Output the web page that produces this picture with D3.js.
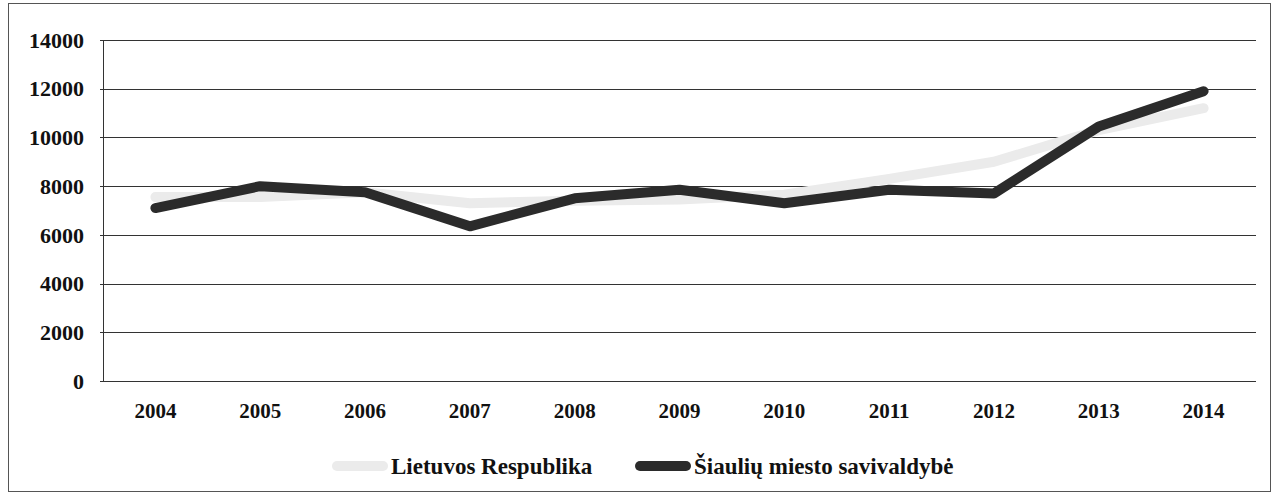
<!DOCTYPE html>
<html>
<head>
<meta charset="utf-8">
<script src="https://cdn.jsdelivr.net/npm/d3@7"></script>
<style>
  body { margin: 0; background: #fff; }
  text { font-family: "Liberation Serif", "Times New Roman", serif; font-weight: bold; fill: #111; }
</style>
</head>
<body>
<script>
// data
const years = ["2004", "2005", "2006", "2007", "2008", "2009", "2010", "2011", "2012", "2013", "2014"];
const lietuvosValues = [7550, 7550, 7750, 7300, 7400, 7450, 7650, 8300, 9000, 10300, 11200];
const siauliuValues = [7100, 8000, 7750, 6350, 7500, 7850, 7300, 7850, 7700, 10450, 11900];
const yTicks = [0, 2000, 4000, 6000, 8000, 10000, 12000, 14000];
const seriesNames = ["Lietuvos Respublika", "Šiaulių miesto savivaldybė"];

const W = 1279, H = 500;
const plot = { left: 103, right: 1256, top: 40, bottom: 381 };

const svg = d3.select("body").append("svg")
    .attr("width", W)
    .attr("height", H);

// outer frame
svg.append("rect")
    .attr("x", 8.5).attr("y", 3.5)
    .attr("width", 1262).attr("height", 488)
    .attr("fill", "none")
    .attr("stroke", "#555")
    .attr("stroke-width", 1);

const x = d3.scalePoint()
    .domain(years)
    .range([plot.left, plot.right])
    .padding(0.5);

const y = d3.scaleLinear()
    .domain([0, 14000])
    .range([plot.bottom, plot.top]);

// gridlines
svg.append("g")
    .selectAll("line")
    .data(yTicks)
    .join("line")
    .attr("x1", plot.left - 3)
    .attr("x2", plot.right)
    .attr("y1", d => Math.round(y(d)) + 0.5)
    .attr("y2", d => Math.round(y(d)) + 0.5)
    .attr("stroke", "#333")
    .attr("stroke-width", 1);

// y axis line
svg.append("line")
    .attr("x1", plot.left + 0.5).attr("x2", plot.left + 0.5)
    .attr("y1", plot.top).attr("y2", plot.bottom)
    .attr("stroke", "#333");

// y labels
svg.append("g")
    .selectAll("text")
    .data(yTicks)
    .join("text")
    .attr("x", 84)
    .attr("y", d => y(d))
    .attr("dy", "0.35em")
    .attr("text-anchor", "end")
    .attr("font-size", 22)
    .text(d => d);

// x labels
svg.append("g")
    .selectAll("text")
    .data(years)
    .join("text")
    .attr("x", d => x(d))
    .attr("y", 418)
    .attr("text-anchor", "middle")
    .attr("font-size", 21)
    .text(d => d);

const line = d3.line()
    .x((d, i) => x(years[i]))
    .y(d => y(d));

// Lietuvos Respublika (pale)
svg.append("path")
    .datum(lietuvosValues)
    .attr("d", line)
    .attr("fill", "none")
    .attr("stroke", "#ebebeb")
    .attr("stroke-width", 10)
    .attr("stroke-linejoin", "round")
    .attr("stroke-linecap", "round");

// Šiaulių miesto savivaldybė (dark)
svg.append("path")
    .datum(siauliuValues)
    .attr("d", line)
    .attr("fill", "none")
    .attr("stroke", "#2b2b2b")
    .attr("stroke-width", 10)
    .attr("stroke-linejoin", "round")
    .attr("stroke-linecap", "round");

// legend
const legendItems = [
    { name: seriesNames[0], color: "#ebebeb", x: 337 },
    { name: seriesNames[1], color: "#2b2b2b", x: 640 }
];
const legend = svg.append("g");
legendItems.forEach(item => {
    legend.append("line")
        .attr("x1", item.x).attr("x2", item.x + 46)
        .attr("y1", 466).attr("y2", 466)
        .attr("stroke", item.color)
        .attr("stroke-width", 10)
        .attr("stroke-linecap", "round");
    legend.append("text")
        .attr("x", item.x + 54)
        .attr("y", 466)
        .attr("dy", "0.35em")
        .attr("font-size", 23)
        .text(item.name);
});
</script>
</body>
</html>
